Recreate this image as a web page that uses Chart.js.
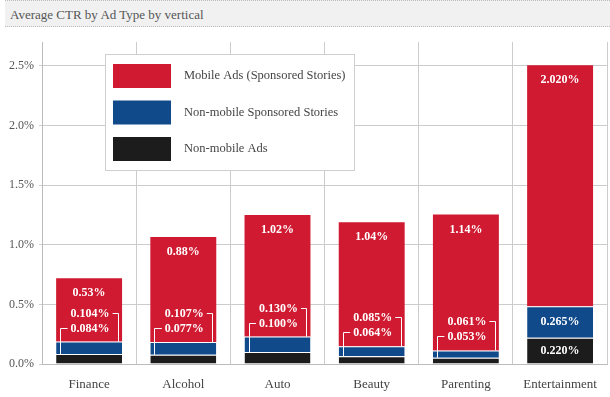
<!DOCTYPE html>
<html>
<head>
<meta charset="utf-8">
<script src="https://cdn.jsdelivr.net/npm/chart.js@4.4.1/dist/chart.umd.min.js"></script>
<style>
  html, body { margin: 0; padding: 0; background: #fff; }
  #wrap { position: relative; width: 610px; height: 397px; }
  #title {
    position: absolute; left: 5px; top: 0; width: 605px; height: 27px;
    background: #f1f1f1; border-top: 1px dotted #bbb; border-bottom: 1px dotted #bbb;
    font: 13px "Liberation Serif", serif; color: #555;
    line-height: 27px; padding-left: 5px; box-sizing: border-box; z-index: 2;
  }
  #chart { position: absolute; left: 0; top: 0; }
</style>
</head>
<body>
<div id="wrap">
  <div id="title">Average CTR by Ad Type by vertical</div>
  <canvas id="chart" width="610" height="397"></canvas>
</div>
<script>
// Data
const categories = ['Finance', 'Alcohol', 'Auto', 'Beauty', 'Parenting', 'Entertainment'];
const nonMobileAds = [0.084, 0.077, 0.100, 0.064, 0.053, 0.220];
const nonMobileSponsored = [0.104, 0.107, 0.130, 0.085, 0.061, 0.265];
const mobileAds = [0.53, 0.88, 1.02, 1.04, 1.14, 2.020];
const mobileLabels = ['0.53%', '0.88%', '1.02%', '1.04%', '1.14%', '2.020%'];
const seriesNames = ['Non-mobile Ads', 'Non-mobile Sponsored Stories', 'Mobile Ads (Sponsored Stories)'];
const seriesColors = ['#1c1c1c', '#114a8b', '#cf1a31'];
const yTicks = [0, 0.5, 1.0, 1.5, 2.0, 2.5];

const serif = '"Liberation Serif", serif';

// Value labels with leader lines
const labelPlugin = {
  id: 'valueLabels',
  afterDatasetsDraw(chart) {
    const ctx = chart.ctx;
    const black = chart.getDatasetMeta(0).data;
    const blue = chart.getDatasetMeta(1).data;
    const red = chart.getDatasetMeta(2).data;
    ctx.save();
    ctx.fillStyle = '#fff';
    ctx.strokeStyle = '#fff';
    ctx.lineWidth = 1;
    ctx.font = 'bold 12px ' + serif;
    ctx.textAlign = 'center';
    ctx.textBaseline = 'middle';
    categories.forEach((c, i) => {
      const r = red[i], b = blue[i], k = black[i];
      const left = r.x - r.width / 2, right = r.x + r.width / 2;
      ctx.fillText(mobileLabels[i], r.x, r.y + 15);
      const blueTxt = nonMobileSponsored[i].toFixed(3) + '%';
      const blackTxt = nonMobileAds[i].toFixed(3) + '%';
      if (b.base - b.y > 20) {
        ctx.fillText(blueTxt, b.x, (b.y + b.base) / 2);
        ctx.fillText(blackTxt, k.x, (k.y + k.base) / 2);
      } else {
        const y1 = b.y - 28, y2 = b.y - 13;
        ctx.fillText(blueTxt, r.x + 1, y1);
        ctx.fillText(blackTxt, r.x + 1, y2);
        const w1 = ctx.measureText(blueTxt).width;
        const w2 = ctx.measureText(blackTxt).width;
        ctx.beginPath();
        ctx.moveTo(r.x + 1 + w1 / 2 + 3, Math.round(y1) - 0.5);
        ctx.lineTo(Math.round(right - 4) + 0.5, Math.round(y1) - 0.5);
        ctx.lineTo(Math.round(right - 4) + 0.5, b.y);
        ctx.moveTo(r.x + 1 - w2 / 2 - 3, Math.round(y2) - 0.5);
        ctx.lineTo(Math.round(left + 4) + 0.5, Math.round(y2) - 0.5);
        ctx.lineTo(Math.round(left + 4) + 0.5, k.y);
        ctx.stroke();
      }
    });
    ctx.restore();
  }
};

// Boxed legend inside the plot
const boxLegend = {
  id: 'boxLegend',
  afterDraw(chart) {
    const ctx = chart.ctx;
    const x = 105, y = 54, w = 250, h = 117;
    ctx.save();
    ctx.fillStyle = '#fff';
    ctx.fillRect(x, y, w, h);
    ctx.strokeStyle = '#cfcfcf';
    ctx.lineWidth = 1;
    ctx.strokeRect(x + 0.5, y + 0.5, w - 1, h - 1);
    ctx.font = '12.5px ' + serif;
    ctx.textBaseline = 'middle';
    ctx.textAlign = 'left';
    const ds = chart.data.datasets.slice().reverse();
    ds.forEach((d, j) => {
      const sy = 64 + j * 36.5;
      ctx.fillStyle = d.backgroundColor;
      ctx.fillRect(113, sy, 58, 24);
      ctx.fillStyle = '#444';
      ctx.fillText(d.label, 184, sy + 12);
    });
    ctx.restore();
  }
};

const segBorder = { top: 1, left: 0, right: 0, bottom: 0 };

new Chart(document.getElementById('chart'), {
  type: 'bar',
  data: {
    labels: categories,
    datasets: [
      { label: seriesNames[0], data: nonMobileAds, backgroundColor: seriesColors[0], borderColor: '#fff', borderWidth: segBorder, borderSkipped: false },
      { label: seriesNames[1], data: nonMobileSponsored, backgroundColor: seriesColors[1], borderColor: '#fff', borderWidth: segBorder, borderSkipped: false },
      { label: seriesNames[2], data: mobileAds, backgroundColor: seriesColors[2], borderWidth: 0 }
    ]
  },
  options: {
    responsive: false,
    animation: false,
    devicePixelRatio: 1,
    layout: { padding: { top: 42, right: 1, left: 0, bottom: 0 } },
    datasets: { bar: { barPercentage: 0.7, categoryPercentage: 1 } },
    plugins: { legend: { display: false }, tooltip: { enabled: false } },
    scales: {
      x: {
        stacked: true,
        grid: { offset: true, color: '#cccccc', drawTicks: false },
        border: { color: '#bbbbbb' },
        ticks: { font: { family: serif, size: 13 }, color: '#444', padding: 13 },
        afterFit(s) { s.height = 33; }
      },
      y: {
        stacked: true,
        min: 0,
        max: 2.7,
        afterBuildTicks(s) { s.ticks = yTicks.map(v => ({ value: v })); },
        grid: { color: '#cccccc', tickLength: 3 },
        border: { color: '#bbbbbb' },
        ticks: {
          font: { family: serif, size: 12 }, color: '#555', padding: 5,
          callback: v => v.toFixed(1) + '%'
        },
        afterFit(s) { s.width = 42; }
      }
    }
  },
  plugins: [labelPlugin, boxLegend]
});
</script>
</body>
</html>
